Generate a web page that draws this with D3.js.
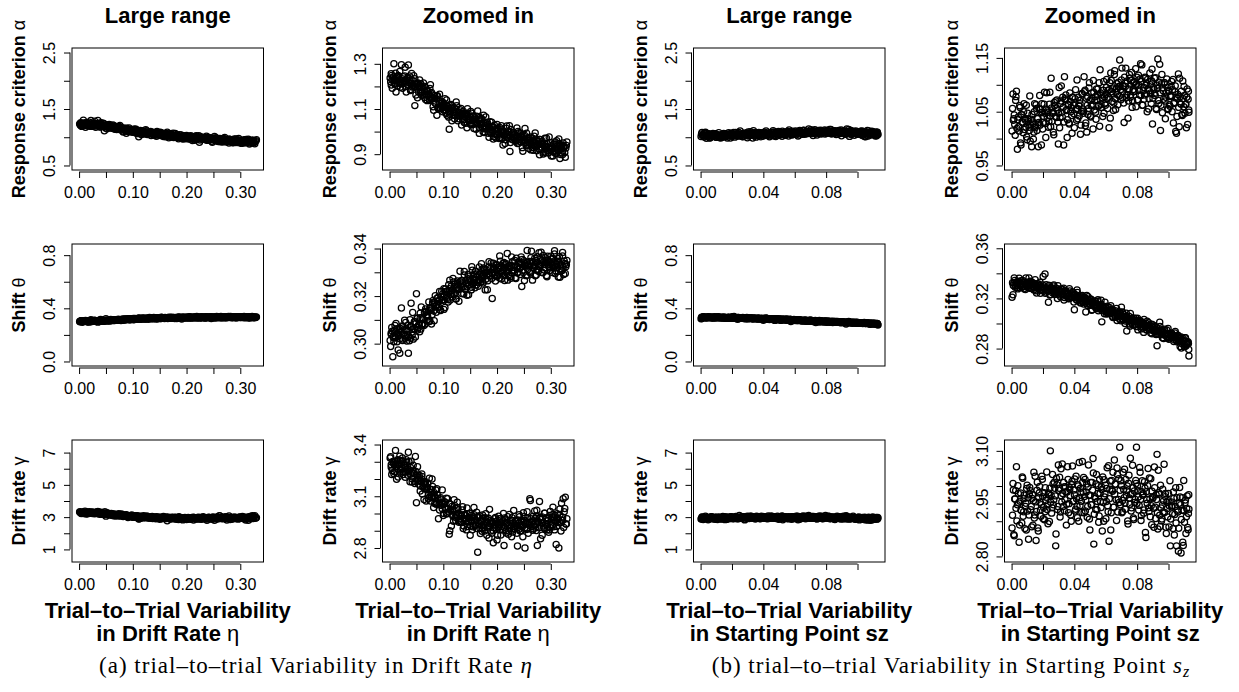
<!DOCTYPE html>
<html>
<head>
<meta charset="utf-8">
<script src="https://cdn.jsdelivr.net/npm/d3@7"></script>
<style>
	body { margin: 0; background: #fff; }
</style>
</head>
<body>
<div id="chart"></div>
<script>
// simulated parameter values (x) and estimates (y), read off the scatter clouds
// (two passes over the x range, 20 values per row)
const xEta = [
	0.001,0.003,0.004,0.006,0.008,0.009,0.011,0.012,0.014,0.016,0.017,0.019,0.020,0.022,0.024,0.025,0.027,0.029,0.030,0.032,
	0.034,0.035,0.037,0.039,0.040,0.042,0.043,0.045,0.047,0.048,0.050,0.052,0.053,0.055,0.057,0.058,0.060,0.061,0.063,0.065,
	0.066,0.068,0.070,0.071,0.073,0.075,0.076,0.078,0.079,0.081,0.083,0.084,0.086,0.088,0.089,0.091,0.093,0.094,0.096,0.098,
	0.099,0.101,0.102,0.104,0.106,0.107,0.109,0.111,0.112,0.114,0.116,0.117,0.119,0.120,0.122,0.124,0.125,0.127,0.129,0.131,
	0.132,0.134,0.135,0.137,0.139,0.140,0.142,0.144,0.145,0.147,0.148,0.150,0.152,0.153,0.155,0.157,0.158,0.160,0.162,0.164,
	0.165,0.167,0.168,0.170,0.172,0.173,0.175,0.176,0.178,0.180,0.181,0.183,0.185,0.186,0.188,0.190,0.191,0.193,0.194,0.196,
	0.198,0.200,0.201,0.203,0.205,0.206,0.208,0.209,0.211,0.213,0.214,0.216,0.218,0.219,0.221,0.223,0.224,0.226,0.228,0.229,
	0.231,0.233,0.234,0.236,0.238,0.239,0.241,0.242,0.244,0.246,0.247,0.249,0.251,0.252,0.254,0.256,0.257,0.259,0.261,0.262,
	0.264,0.266,0.267,0.269,0.271,0.272,0.274,0.275,0.277,0.279,0.280,0.282,0.284,0.285,0.287,0.289,0.290,0.292,0.293,0.295,
	0.297,0.299,0.300,0.302,0.304,0.305,0.307,0.308,0.310,0.312,0.313,0.315,0.317,0.318,0.320,0.322,0.323,0.325,0.327,0.329,
	0.002,0.003,0.005,0.007,0.008,0.010,0.011,0.013,0.015,0.016,0.018,0.019,0.021,0.023,0.024,0.026,0.028,0.029,0.031,0.033,
	0.034,0.036,0.038,0.039,0.041,0.042,0.044,0.046,0.047,0.049,0.051,0.052,0.054,0.056,0.057,0.059,0.060,0.062,0.064,0.065,
	0.067,0.069,0.070,0.072,0.074,0.075,0.077,0.078,0.080,0.082,0.083,0.085,0.087,0.088,0.090,0.092,0.093,0.095,0.097,0.098,
	0.100,0.101,0.103,0.105,0.106,0.108,0.110,0.111,0.113,0.115,0.116,0.118,0.120,0.121,0.123,0.124,0.126,0.128,0.129,0.131,
	0.133,0.134,0.136,0.138,0.139,0.141,0.143,0.144,0.146,0.147,0.149,0.151,0.152,0.154,0.156,0.157,0.159,0.161,0.162,0.164,
	0.166,0.167,0.169,0.171,0.172,0.174,0.175,0.177,0.179,0.180,0.182,0.184,0.185,0.187,0.189,0.190,0.192,0.193,0.195,0.197,
	0.199,0.200,0.202,0.204,0.205,0.207,0.208,0.210,0.212,0.213,0.215,0.217,0.218,0.220,0.222,0.223,0.225,0.227,0.228,0.230,
	0.232,0.233,0.235,0.237,0.238,0.240,0.241,0.243,0.245,0.246,0.248,0.250,0.251,0.253,0.255,0.256,0.258,0.260,0.261,0.263,
	0.265,0.266,0.268,0.270,0.271,0.273,0.274,0.276,0.278,0.279,0.281,0.283,0.284,0.286,0.288,0.289,0.291,0.292,0.294,0.296,
	0.298,0.299,0.301,0.303,0.304,0.306,0.307,0.309,0.311,0.312,0.314,0.316,0.317,0.319,0.321,0.322,0.324,0.326,0.328,0.330
];
const alphaEta = [
	1.237,1.206,1.248,1.226,1.300,1.214,1.230,1.175,1.241,1.248,1.216,1.229,1.196,1.296,1.213,1.243,1.221,1.285,1.200,1.229,
	1.207,1.295,1.246,1.182,1.213,1.227,1.203,1.247,1.115,1.198,1.209,1.150,1.215,1.197,1.172,1.212,1.199,1.174,1.215,1.151,
	1.199,1.165,1.137,1.178,1.165,1.138,1.208,1.149,1.166,1.110,1.148,1.160,1.124,1.072,1.159,1.101,1.132,1.103,1.115,1.132,
	1.088,1.126,1.108,1.096,1.140,1.072,1.110,1.010,1.077,1.120,1.048,1.103,1.086,1.106,1.071,1.087,1.114,1.048,1.086,1.068,
	1.084,1.029,1.074,1.090,1.055,1.073,1.037,1.076,1.101,1.050,1.058,1.034,1.081,1.037,1.067,1.014,1.045,1.056,1.038,1.091,
	1.049,1.018,1.062,1.032,1.052,1.019,1.073,0.996,1.027,1.012,1.041,1.030,0.975,1.015,0.996,1.042,1.002,1.022,0.978,1.007,
	0.972,1.032,0.987,1.008,1.018,0.974,0.995,1.010,0.941,0.997,0.983,0.964,1.025,0.977,0.998,0.982,0.912,1.009,0.989,0.964,
	0.995,0.974,0.958,0.983,0.947,1.001,0.965,0.957,0.989,0.973,0.929,0.981,0.960,1.014,0.940,0.963,0.970,0.925,0.947,0.976,
	0.943,0.958,0.917,0.980,0.950,0.932,0.964,0.941,0.955,0.897,0.965,0.920,0.944,0.947,0.906,0.971,0.923,0.933,0.947,0.905,
	0.976,0.921,0.938,0.925,0.892,0.943,0.912,0.954,0.905,0.927,0.918,0.967,0.940,0.899,0.934,0.914,0.950,0.932,0.886,0.939,
	1.221,1.256,1.192,1.242,1.228,1.210,1.258,1.234,1.202,1.245,1.221,1.266,1.211,1.234,1.192,1.226,1.246,1.214,1.175,1.235,
	1.240,1.216,1.226,1.186,1.257,1.197,1.212,1.196,1.234,1.162,1.213,1.198,1.175,1.228,1.197,1.179,1.160,1.201,1.184,1.164,
	1.142,1.179,1.183,1.161,1.141,1.191,1.146,1.173,1.150,1.094,1.159,1.125,1.144,1.157,1.106,1.125,1.165,1.103,1.126,1.105,
	1.114,1.095,1.146,1.081,1.114,1.101,1.064,1.117,1.088,1.103,1.116,1.072,1.086,1.057,1.099,1.131,1.070,1.086,1.057,1.097,
	1.102,1.073,1.052,1.077,1.040,1.079,1.067,1.017,1.081,1.048,1.067,1.089,1.030,1.050,1.069,1.032,1.052,1.010,1.068,1.036,
	1.055,0.992,1.029,1.058,1.036,0.999,1.038,1.012,1.065,1.017,1.039,0.993,1.022,1.044,0.993,1.009,1.019,0.967,1.028,0.991,
	0.985,1.001,1.014,0.969,0.985,0.999,1.026,0.970,0.989,1.001,0.947,1.015,0.974,0.986,0.968,1.026,0.952,0.989,0.976,0.997,
	0.968,0.985,0.958,1.016,0.971,0.948,0.995,0.977,0.954,0.984,0.913,0.965,0.984,0.952,0.993,0.939,0.953,0.971,0.961,0.919,
	0.972,0.929,0.955,0.936,0.994,0.960,0.915,0.941,0.924,0.965,0.948,0.931,0.957,0.901,0.935,0.945,0.908,0.971,0.916,0.931,
	0.921,0.951,0.892,0.932,0.910,0.945,0.925,0.903,0.960,0.936,0.916,0.947,0.881,0.929,0.940,0.899,0.934,0.907,0.927,0.954
];
const thetaEta = [
	0.3013,0.3045,0.3068,0.2945,0.3033,0.3054,0.3027,0.3085,0.3008,0.3031,0.3049,0.2960,0.3064,0.3150,0.3019,0.3072,0.3059,0.3032,0.3089,0.3011,
	0.3076,0.2960,0.3012,0.3071,0.3170,0.3035,0.3131,0.3064,0.3092,0.3028,0.3210,0.3107,0.3068,0.3080,0.3128,0.3061,0.3109,0.3078,0.3101,0.3130,
	0.3082,0.3136,0.3121,0.3112,0.3175,0.3095,0.3149,0.3147,0.3122,0.3182,0.3096,0.3173,0.3157,0.3190,0.3152,0.3179,0.3219,0.3142,0.3197,0.3182,
	0.3209,0.3144,0.3206,0.3230,0.3190,0.3218,0.3175,0.3231,0.3267,0.3208,0.3222,0.3196,0.3259,0.3209,0.3250,0.3188,0.3233,0.3252,0.3231,0.3304,
	0.3248,0.3211,0.3266,0.3239,0.3289,0.3229,0.3254,0.3203,0.3272,0.3284,0.3247,0.3266,0.3226,0.3323,0.3252,0.3292,0.3266,0.3305,0.3248,0.3286,
	0.3241,0.3322,0.3267,0.3297,0.3312,0.3261,0.3290,0.3311,0.3226,0.3300,0.3285,0.3264,0.3344,0.3287,0.3317,0.3299,0.3190,0.3338,0.3317,0.3288,
	0.3330,0.3306,0.3286,0.3321,0.3276,0.3347,0.3302,0.3295,0.3337,0.3318,0.3265,0.3333,0.3308,0.3379,0.3287,0.3319,0.3330,0.3275,0.3306,0.3346,
	0.3307,0.3327,0.3277,0.3359,0.3323,0.3301,0.3343,0.3316,0.3336,0.3240,0.3354,0.3299,0.3329,0.3336,0.3286,0.3392,0.3312,0.3327,0.3346,0.3297,
	0.3389,0.3320,0.3343,0.3327,0.3285,0.3350,0.3311,0.3365,0.3304,0.3333,0.3322,0.3384,0.3351,0.3298,0.3343,0.3319,0.3361,0.3340,0.3281,0.3349,
	0.3346,0.3309,0.3368,0.3330,0.3358,0.3318,0.3391,0.3295,0.3337,0.3319,0.3358,0.3346,0.3279,0.3331,0.3308,0.3369,0.3321,0.3348,0.3295,0.3333,
	0.2988,0.3039,0.3052,0.3026,0.3008,0.3076,0.3024,0.3063,0.3039,0.2973,0.3060,0.3021,0.3050,0.3074,0.3013,0.3041,0.3098,0.3023,0.3058,0.3037,
	0.3051,0.3031,0.3101,0.3023,0.3071,0.3060,0.3019,0.3092,0.3062,0.3084,0.3107,0.3057,0.3079,0.3050,0.3109,0.3154,0.3081,0.3106,0.3076,0.3133,
	0.3146,0.3117,0.3096,0.3134,0.3093,0.3151,0.3141,0.3083,0.3172,0.3137,0.3166,0.3201,0.3132,0.3165,0.3194,0.3153,0.3185,0.3139,0.3220,0.3184,
	0.3184,0.3231,0.3152,0.3219,0.3204,0.3185,0.3248,0.3219,0.3183,0.3241,0.3213,0.3274,0.3206,0.3240,0.3189,0.3236,0.3264,0.3227,0.3178,0.3260,
	0.3265,0.3239,0.3255,0.3209,0.3303,0.3229,0.3254,0.3239,0.3291,0.3206,0.3275,0.3260,0.3237,0.3309,0.3274,0.3256,0.3235,0.3293,0.3279,0.3258,
	0.3267,0.3291,0.3258,0.3336,0.3281,0.3255,0.3318,0.3297,0.3271,0.3311,0.3227,0.3295,0.3322,0.3284,0.3339,0.3274,0.3294,0.3322,0.3311,0.3263,
	0.3333,0.3281,0.3314,0.3293,0.3369,0.3328,0.3272,0.3306,0.3287,0.3341,0.3321,0.3303,0.3336,0.3267,0.3312,0.3327,0.3282,0.3364,0.3297,0.3321,
	0.3309,0.3350,0.3274,0.3325,0.3297,0.3343,0.3318,0.3291,0.3364,0.3334,0.3309,0.3349,0.3265,0.3328,0.3342,0.3289,0.3334,0.3302,0.3327,0.3361,
	0.3345,0.3267,0.3318,0.3358,0.3333,0.3289,0.3342,0.3312,0.3382,0.3324,0.3355,0.3300,0.3339,0.3371,0.3310,0.3333,0.3350,0.3286,0.3368,0.3324,
	0.3318,0.3340,0.3356,0.3299,0.3322,0.3340,0.3377,0.3306,0.3331,0.3347,0.3280,0.3365,0.3315,0.3331,0.3308,0.3383,0.3291,0.3337,0.3323,0.3350
];
const gammaEta = [
	3.322,3.268,3.226,3.301,3.285,3.242,3.366,3.271,3.304,3.212,3.283,3.309,3.252,3.262,3.322,3.226,3.286,3.240,3.266,3.299,
	3.222,3.355,3.253,3.228,3.303,3.183,3.246,3.232,3.186,3.330,3.062,3.222,3.190,3.222,3.160,3.185,3.229,3.113,3.176,3.144,
	3.169,3.073,3.147,3.172,3.110,3.139,3.072,3.140,3.200,3.092,3.101,3.058,3.136,3.059,3.106,2.970,3.066,3.084,3.047,3.137,
	3.056,3.000,3.068,3.027,3.088,3.001,3.028,2.880,2.900,3.052,2.996,3.015,2.955,3.080,2.978,3.028,2.986,3.033,2.949,2.995,
	2.952,2.992,3.021,2.913,2.969,2.994,2.955,3.032,2.924,2.953,2.974,2.874,2.990,2.963,2.923,2.993,2.973,2.933,3.008,2.775,
	2.976,2.941,2.914,2.959,2.897,2.992,2.930,2.918,2.975,2.947,2.874,2.964,2.930,3.024,2.898,2.940,2.954,2.830,2.918,2.970,
	2.916,2.942,2.874,2.984,2.935,2.905,2.962,2.924,2.951,2.815,2.974,2.899,2.940,2.948,2.880,2.994,2.914,2.934,2.960,2.892,
	3.018,2.923,2.954,2.931,2.812,2.962,2.909,2.981,2.898,2.937,2.922,3.005,2.960,2.800,2.949,2.915,2.972,2.942,3.085,3.075,
	2.951,2.903,2.983,2.934,2.972,2.920,3.019,2.815,2.948,3.070,2.979,2.965,2.874,2.947,2.917,3.001,2.937,2.976,2.905,2.959,
	2.904,3.012,2.936,2.975,2.995,2.923,2.962,2.989,2.820,2.971,2.949,2.800,3.026,2.948,3.060,2.960,3.085,3.010,3.095,2.939,
	3.329,3.283,3.249,3.293,3.231,3.303,3.283,3.199,3.312,3.258,3.291,3.332,3.233,3.270,3.303,3.241,3.278,3.210,3.312,3.257,
	3.245,3.300,3.184,3.266,3.238,3.202,3.280,3.232,3.174,3.244,3.197,3.271,3.171,3.207,3.130,3.185,3.214,3.155,3.081,3.182,
	3.184,3.141,3.154,3.085,3.205,3.097,3.122,3.094,3.157,3.035,3.120,3.092,3.053,3.143,3.087,3.056,3.020,3.091,3.063,3.027,
	2.988,3.053,3.065,3.027,2.997,3.085,3.009,3.059,3.022,2.927,3.041,2.984,3.019,3.046,2.959,2.994,3.066,2.960,3.002,2.969,
	2.983,2.950,3.040,2.928,2.988,2.967,2.905,2.998,2.951,2.976,3.001,2.928,2.952,2.906,2.980,3.035,2.931,2.959,2.913,2.983,
	2.934,2.987,2.884,2.951,2.912,2.973,2.938,2.899,2.998,2.955,2.920,2.972,2.858,2.941,2.959,2.886,2.946,2.900,2.933,2.977,
	2.954,2.847,2.916,2.969,2.935,2.875,2.947,2.905,3.000,2.920,2.962,2.887,2.940,2.982,2.899,2.929,2.952,2.865,2.976,2.915,
	2.908,2.939,2.961,2.885,2.917,2.943,2.993,2.898,2.932,2.956,2.865,2.982,2.914,2.938,2.907,3.010,2.885,2.949,2.931,2.969,
	2.925,2.956,2.910,3.014,2.938,2.901,2.985,2.955,2.917,2.971,2.854,2.946,2.980,2.928,3.001,2.910,2.937,2.973,2.958,2.891,
	2.988,2.917,2.962,2.933,3.037,2.980,2.905,2.951,2.925,2.998,2.972,2.946,2.992,2.898,2.959,2.979,2.919,3.029,2.939,2.970
];

const xSz = [
	0.0003,0.0009,0.0014,0.0020,0.0026,0.0031,0.0037,0.0043,0.0048,0.0054,0.0060,0.0065,0.0071,0.0077,0.0082,0.0088,0.0094,0.0099,0.0105,0.0111,
	0.0116,0.0122,0.0128,0.0133,0.0139,0.0145,0.0150,0.0156,0.0162,0.0167,0.0173,0.0179,0.0184,0.0190,0.0196,0.0201,0.0207,0.0213,0.0218,0.0224,
	0.0230,0.0235,0.0241,0.0247,0.0252,0.0258,0.0264,0.0269,0.0275,0.0281,0.0286,0.0292,0.0298,0.0303,0.0309,0.0315,0.0320,0.0326,0.0332,0.0337,
	0.0343,0.0349,0.0354,0.0360,0.0366,0.0371,0.0377,0.0383,0.0388,0.0394,0.0400,0.0405,0.0411,0.0417,0.0422,0.0428,0.0434,0.0439,0.0445,0.0451,
	0.0456,0.0462,0.0468,0.0473,0.0479,0.0485,0.0490,0.0496,0.0502,0.0507,0.0513,0.0519,0.0524,0.0530,0.0536,0.0541,0.0547,0.0553,0.0558,0.0564,
	0.0570,0.0575,0.0581,0.0587,0.0592,0.0598,0.0604,0.0609,0.0615,0.0621,0.0626,0.0632,0.0638,0.0643,0.0649,0.0655,0.0660,0.0666,0.0672,0.0677,
	0.0683,0.0689,0.0694,0.0700,0.0706,0.0711,0.0717,0.0723,0.0728,0.0734,0.0740,0.0745,0.0751,0.0757,0.0762,0.0768,0.0774,0.0779,0.0785,0.0791,
	0.0796,0.0802,0.0808,0.0813,0.0819,0.0825,0.0830,0.0836,0.0842,0.0847,0.0853,0.0859,0.0864,0.0870,0.0876,0.0881,0.0887,0.0893,0.0898,0.0904,
	0.0910,0.0915,0.0921,0.0927,0.0932,0.0938,0.0944,0.0949,0.0955,0.0961,0.0966,0.0972,0.0978,0.0983,0.0989,0.0995,0.1000,0.1006,0.1012,0.1017,
	0.1023,0.1029,0.1034,0.1040,0.1046,0.1051,0.1057,0.1063,0.1068,0.1074,0.1080,0.1085,0.1091,0.1097,0.1102,0.1108,0.1114,0.1119,0.1125,0.1130,
	0.0006,0.0011,0.0017,0.0023,0.0028,0.0034,0.0040,0.0045,0.0051,0.0057,0.0062,0.0068,0.0074,0.0079,0.0085,0.0091,0.0096,0.0102,0.0108,0.0113,
	0.0119,0.0125,0.0130,0.0136,0.0142,0.0147,0.0153,0.0159,0.0164,0.0170,0.0176,0.0181,0.0187,0.0193,0.0198,0.0204,0.0210,0.0215,0.0221,0.0227,
	0.0232,0.0238,0.0244,0.0249,0.0255,0.0261,0.0266,0.0272,0.0278,0.0283,0.0289,0.0295,0.0300,0.0306,0.0312,0.0317,0.0323,0.0329,0.0334,0.0340,
	0.0346,0.0351,0.0357,0.0363,0.0368,0.0374,0.0380,0.0385,0.0391,0.0397,0.0402,0.0408,0.0414,0.0419,0.0425,0.0431,0.0436,0.0442,0.0448,0.0453,
	0.0459,0.0465,0.0470,0.0476,0.0482,0.0487,0.0493,0.0499,0.0504,0.0510,0.0516,0.0521,0.0527,0.0533,0.0538,0.0544,0.0550,0.0555,0.0561,0.0567,
	0.0572,0.0578,0.0584,0.0589,0.0595,0.0601,0.0606,0.0612,0.0618,0.0623,0.0629,0.0635,0.0640,0.0646,0.0652,0.0657,0.0663,0.0669,0.0674,0.0680,
	0.0686,0.0691,0.0697,0.0703,0.0708,0.0714,0.0720,0.0725,0.0731,0.0737,0.0742,0.0748,0.0754,0.0759,0.0765,0.0771,0.0776,0.0782,0.0788,0.0793,
	0.0799,0.0805,0.0810,0.0816,0.0822,0.0827,0.0833,0.0839,0.0844,0.0850,0.0856,0.0861,0.0867,0.0873,0.0878,0.0884,0.0890,0.0895,0.0901,0.0907,
	0.0912,0.0918,0.0924,0.0929,0.0935,0.0941,0.0946,0.0952,0.0958,0.0963,0.0969,0.0975,0.0980,0.0986,0.0992,0.0997,0.1003,0.1009,0.1014,0.1020,
	0.1026,0.1031,0.1037,0.1043,0.1048,0.1054,0.1060,0.1065,0.1071,0.1077,0.1082,0.1088,0.1094,0.1099,0.1105,0.1111,0.1116,0.1122,0.1127,0.1129
];
const alphaSz = [
	1.014,1.083,1.037,1.026,1.071,1.088,0.980,1.040,1.014,1.058,0.988,1.044,1.029,1.050,1.017,1.034,1.062,0.998,1.037,1.021,
	1.079,1.025,0.985,1.031,0.999,1.050,1.020,1.063,1.015,1.038,1.030,1.080,1.054,0.988,1.049,1.030,1.064,1.047,1.002,1.085,
	1.052,1.021,1.064,1.042,1.112,1.032,1.049,1.007,1.061,1.070,1.039,1.053,0.990,1.095,1.039,1.070,1.049,1.077,0.988,1.115,
	1.072,1.052,1.002,1.064,1.029,1.085,1.050,1.043,1.077,1.062,1.020,1.074,1.054,1.109,1.037,1.061,1.071,1.008,1.051,1.083,
	1.047,1.115,1.090,1.029,1.012,1.078,1.056,1.104,1.042,1.061,1.074,1.018,1.086,1.071,1.049,1.092,1.081,1.060,1.104,1.128,
	1.064,1.081,1.041,1.106,1.078,1.062,1.095,1.074,1.090,1.020,1.104,1.122,1.087,1.092,1.052,1.119,1.074,1.086,1.102,1.063,
	1.097,1.146,1.091,1.109,1.076,1.097,1.030,1.103,1.131,1.082,1.091,1.070,1.119,1.077,1.108,1.058,1.091,1.104,1.088,1.130,
	1.101,1.072,1.118,1.090,1.111,1.080,1.137,1.062,1.095,1.081,1.112,1.103,1.050,1.092,1.074,1.122,1.085,1.107,1.027,1.095,
	1.112,1.080,1.056,1.099,1.148,1.065,1.138,1.015,1.102,1.048,1.089,1.104,1.070,1.077,1.111,1.056,1.090,1.063,1.078,1.097,
	1.050,1.110,1.065,1.087,1.013,1.010,1.075,1.120,1.022,1.078,1.064,1.045,1.107,1.059,1.080,1.064,1.020,1.092,1.073,1.049,
	1.056,1.034,1.044,1.006,1.078,1.019,1.035,1.022,1.061,0.992,1.045,1.031,1.011,1.065,1.037,1.021,1.003,1.047,1.032,1.015,
	0.995,1.036,1.045,1.027,1.012,1.065,1.024,1.056,1.037,0.985,1.055,1.025,1.048,1.065,1.018,1.041,1.086,1.028,1.055,1.038,
	1.049,1.032,1.086,1.022,1.057,1.047,1.012,1.067,1.041,1.057,1.072,1.031,1.047,1.020,1.065,1.098,1.040,1.058,1.031,1.074,
	1.081,1.054,1.035,1.062,1.027,1.069,1.058,1.010,1.077,1.046,1.066,1.091,1.034,1.056,1.077,1.042,1.065,1.025,1.084,1.055,
	1.051,1.087,1.024,1.075,1.062,1.045,1.094,1.071,1.040,1.085,1.061,1.108,1.053,1.078,1.036,1.072,1.092,1.062,1.023,1.085,
	1.058,1.076,1.090,1.047,1.065,1.082,1.110,1.056,1.077,1.091,1.038,1.108,1.069,1.083,1.066,1.126,1.054,1.093,1.082,1.105,
	1.079,1.097,1.072,1.131,1.087,1.066,1.114,1.097,1.076,1.107,1.038,1.092,1.112,1.081,1.123,1.071,1.087,1.106,1.099,1.059,
	1.114,1.072,1.099,1.081,1.139,1.106,1.062,1.089,1.073,1.114,1.099,1.083,1.110,1.055,1.089,1.100,1.065,1.129,1.075,1.092,
	1.084,1.113,1.054,1.093,1.071,1.105,1.085,1.062,1.119,1.094,1.073,1.104,1.037,1.085,1.095,1.054,1.088,1.060,1.080,1.106,
	1.091,1.029,1.067,1.098,1.077,1.041,1.082,1.058,1.112,1.065,1.088,1.043,1.074,1.097,1.047,1.064,1.077,1.026,1.088,1.053
];
const thetaSz = [
	0.3210,0.3230,0.3324,0.3343,0.3304,0.3326,0.3286,0.3333,0.3362,0.3305,0.3316,0.3289,0.3344,0.3295,0.3330,0.3271,0.3308,0.3322,0.3302,0.3364,
	0.3314,0.3280,0.3331,0.3297,0.3321,0.3284,0.3349,0.3261,0.3298,0.3281,0.3315,0.3304,0.3242,0.3289,0.3266,0.3375,0.3277,0.3395,0.3251,0.3285,
	0.3260,0.3170,0.3304,0.3231,0.3267,0.3284,0.3256,0.3307,0.3235,0.3253,0.3266,0.3199,0.3275,0.3255,0.3228,0.3275,0.3260,0.3233,0.3281,0.3208,
	0.3259,0.3234,0.3214,0.3243,0.3199,0.3260,0.3218,0.3208,0.3244,0.3225,0.3110,0.3232,0.3207,0.3268,0.3183,0.3209,0.3216,0.3164,0.3189,0.3223,
	0.3168,0.3210,0.3189,0.3092,0.3223,0.3143,0.3186,0.3178,0.3146,0.3193,0.3110,0.3171,0.3150,0.3173,0.3131,0.3148,0.3178,0.3101,0.3143,0.3122,
	0.3185,0.3013,0.3136,0.3118,0.3077,0.3132,0.3094,0.3138,0.3079,0.3102,0.3088,0.3141,0.3108,0.3057,0.3094,0.3068,0.3102,0.3079,0.3023,0.3081,
	0.3073,0.3034,0.3079,0.3130,0.3091,0.3032,0.3050,0.2999,0.3056,0.2940,0.3025,0.3037,0.2996,0.3079,0.3010,0.3043,0.3014,0.3044,0.2988,0.3018,
	0.2975,0.3042,0.2990,0.3012,0.3023,0.2972,0.2994,0.3010,0.2929,0.2992,0.2974,0.2951,0.3019,0.2963,0.2987,0.2966,0.2925,0.2994,0.2971,0.2940,
	0.2980,0.2941,0.2912,0.2822,0.2946,0.2915,0.3010,0.2930,0.2950,0.2887,0.2933,0.2947,0.2906,0.2911,0.2949,0.2883,0.2921,0.2887,0.2903,0.2923,
	0.2890,0.2904,0.2856,0.2925,0.2889,0.2865,0.2899,0.2870,0.2884,0.2816,0.2892,0.2838,0.2863,0.2864,0.2815,0.2887,0.2830,0.2840,0.2853,0.2740,
	0.3325,0.3304,0.3364,0.3290,0.3330,0.3316,0.3276,0.3338,0.3306,0.3323,0.3341,0.3292,0.3308,0.3277,0.3328,0.3364,0.3295,0.3315,0.3284,0.3331,
	0.3337,0.3306,0.3281,0.3310,0.3268,0.3315,0.3301,0.3244,0.3318,0.3281,0.3303,0.3329,0.3262,0.3286,0.3307,0.3265,0.3290,0.3242,0.3309,0.3272,
	0.3265,0.3303,0.3228,0.3284,0.3267,0.3246,0.3299,0.3270,0.3232,0.3281,0.3251,0.3302,0.3237,0.3263,0.3213,0.3252,0.3273,0.3235,0.3188,0.3256,
	0.3259,0.3231,0.3242,0.3197,0.3277,0.3207,0.3226,0.3208,0.3252,0.3172,0.3229,0.3212,0.3187,0.3248,0.3214,0.3194,0.3171,0.3219,0.3202,0.3180,
	0.3155,0.3198,0.3204,0.3178,0.3157,0.3214,0.3163,0.3195,0.3169,0.3105,0.3180,0.3141,0.3163,0.3180,0.3121,0.3143,0.3190,0.3118,0.3146,0.3122,
	0.3152,0.3101,0.3129,0.3105,0.3170,0.3130,0.3076,0.3102,0.3082,0.3127,0.3106,0.3085,0.3113,0.3047,0.3084,0.3094,0.3049,0.3119,0.3056,0.3073,
	0.3060,0.3092,0.3021,0.3064,0.3035,0.3073,0.3047,0.3019,0.3081,0.3051,0.3025,0.3057,0.2979,0.3031,0.3041,0.2990,0.3027,0.2994,0.3014,0.3041,
	0.3023,0.2949,0.2992,0.3025,0.3000,0.2957,0.3002,0.2972,0.3032,0.2977,0.3002,0.2948,0.2982,0.3006,0.2949,0.2966,0.2978,0.2918,0.2988,0.2945,
	0.2937,0.2954,0.2967,0.2914,0.2931,0.2946,0.2976,0.2910,0.2930,0.2942,0.2880,0.2955,0.2906,0.2919,0.2896,0.2961,0.2875,0.2915,0.2900,0.2923,
	0.2890,0.2907,0.2873,0.2937,0.2884,0.2855,0.2906,0.2883,0.2854,0.2886,0.2804,0.2861,0.2880,0.2841,0.2886,0.2821,0.2835,0.2855,0.2841,0.2792
];
const gammaSz = [
	2.881,3.007,2.862,2.963,2.987,3.055,2.947,2.979,2.840,2.957,2.931,2.895,3.022,2.927,2.974,2.942,2.875,3.002,2.967,2.918,
	2.996,2.933,2.884,2.975,2.958,2.909,3.028,2.845,2.988,2.881,2.967,2.999,2.932,2.947,3.019,2.907,2.981,2.927,2.959,3.040,
	2.947,2.980,2.899,3.100,2.973,2.938,3.006,2.961,2.994,2.830,3.022,2.933,3.060,2.994,2.912,3.049,2.955,2.979,3.010,2.930,
	2.998,2.889,2.983,3.019,2.950,2.991,2.918,3.004,3.057,2.957,2.975,2.929,3.028,2.942,3.004,2.900,2.967,2.994,2.957,3.070,
	2.983,2.924,3.019,2.960,3.006,2.942,3.060,2.906,2.974,2.947,3.010,3.078,2.835,2.970,2.933,3.033,2.956,3.001,2.915,2.979,
	2.939,2.990,3.026,2.900,2.969,3.002,2.956,3.052,2.927,2.843,2.991,2.875,3.016,2.985,2.940,3.074,3.005,2.961,3.051,2.926,
	3.021,3.110,2.947,3.001,2.927,3.039,2.967,2.952,3.019,2.987,2.901,3.008,2.966,3.079,2.929,2.978,2.995,2.905,2.953,3.016,
	3.110,3.000,2.969,2.945,3.039,2.902,2.984,2.974,2.923,3.012,2.868,2.984,2.951,3.050,2.928,2.963,3.021,2.890,2.970,2.937,
	3.054,2.940,2.975,3.090,2.878,2.981,2.917,3.002,2.901,2.946,2.926,3.062,2.970,2.883,2.954,2.912,2.979,2.943,2.830,2.955,
	2.944,2.879,2.965,2.919,2.995,2.830,2.931,2.815,2.951,2.969,2.810,2.931,2.840,3.016,2.897,2.960,2.913,2.972,2.876,2.934,
	2.917,2.989,2.859,2.963,2.937,2.901,3.001,2.952,2.889,2.980,2.931,3.026,2.914,2.964,2.879,2.951,2.993,2.929,2.849,2.977,
	2.987,2.942,2.965,2.889,3.039,2.918,2.955,2.928,3.011,2.872,2.980,2.954,2.914,3.028,2.970,2.939,2.904,2.995,2.968,2.933,
	2.893,2.976,2.994,2.954,2.923,3.033,2.947,3.011,2.972,2.864,3.004,2.942,2.988,3.025,2.926,2.972,3.063,2.942,2.997,2.961,
	2.984,2.948,3.055,2.924,2.996,2.973,2.900,3.013,2.957,2.989,3.020,2.934,2.964,2.910,3.000,3.067,2.944,2.981,2.925,3.011,
	3.024,2.970,2.929,2.983,2.911,2.997,2.974,2.875,3.010,2.947,2.988,3.037,2.920,2.965,3.006,2.933,2.979,2.897,3.019,2.956,
	2.998,2.872,2.953,3.018,2.978,2.907,2.993,2.944,3.058,2.964,3.014,2.924,2.989,3.039,2.940,2.977,3.005,2.902,3.033,2.962,
	2.953,2.988,3.015,2.924,2.959,2.990,3.048,2.934,2.974,3.000,2.892,3.031,2.948,2.976,2.938,3.059,2.909,2.986,2.962,3.007,
	2.951,2.987,2.932,3.053,2.962,2.916,3.015,2.978,2.932,2.994,2.854,2.962,3.001,2.938,3.023,2.913,2.944,2.985,2.966,2.883,
	2.995,2.908,2.962,2.924,3.045,2.977,2.885,2.938,2.906,2.991,2.958,2.925,2.979,2.865,2.936,2.958,2.884,3.015,2.906,2.941,
	2.921,2.983,2.861,2.942,2.895,2.967,2.926,2.880,2.996,2.947,2.905,2.967,2.831,2.930,2.952,2.865,2.936,2.882,2.922,2.975
];

// axis ranges and ticks
const etaLim = [0, 0.33];
const szLim = [0, 0.113];
const etaTicks = [0, 0.05, 0.10, 0.15, 0.20, 0.25, 0.30];
const etaTickLabels = ["0.00", "", "0.10", "", "0.20", "", "0.30"];
const szTicks = [0, 0.02, 0.04, 0.06, 0.08, 0.10];
const szTickLabels = ["0.00", "", "0.04", "", "0.08", ""];

const alphaWideLim = [0.5, 2.5];
const alphaWideTicks = [0.5, 1.0, 1.5, 2.0, 2.5];
const alphaWideLabels = ["0.5", "", "1.5", "", "2.5"];
const alphaEtaLim = [0.85, 1.35];
const alphaEtaTicks = [0.9, 1.0, 1.1, 1.2, 1.3];
const alphaEtaLabels = ["0.9", "", "1.1", "", "1.3"];
const alphaSzLim = [0.95, 1.16];
const alphaSzTicks = [0.95, 1.00, 1.05, 1.10, 1.15];
const alphaSzLabels = ["0.95", "", "1.05", "", "1.15"];

const thetaWideLim = [0, 0.85];
const thetaWideTicks = [0, 0.2, 0.4, 0.6, 0.8];
const thetaWideLabels = ["0.0", "", "0.4", "", "0.8"];
const thetaEtaLim = [0.2925, 0.34];
const thetaEtaTicks = [0.30, 0.31, 0.32, 0.33, 0.34];
const thetaEtaLabels = ["0.30", "", "0.32", "", "0.34"];
const thetaSzLim = [0.2697, 0.3598];
const thetaSzTicks = [0.28, 0.30, 0.32, 0.34, 0.36];
const thetaSzLabels = ["0.28", "", "0.32", "", "0.36"];

const gammaWideLim = [0.5, 7.5];
const gammaWideTicks = [1, 2, 3, 4, 5, 6, 7];
const gammaWideLabels = ["1", "", "3", "", "5", "", "7"];
const gammaEtaLim = [2.745, 3.40];
const gammaEtaTicks = [2.8, 2.9, 3.0, 3.1, 3.2, 3.3, 3.4];
const gammaEtaLabels = ["2.8", "", "", "3.1", "", "", "3.4"];
const gammaSzLim = [2.797, 3.118];
const gammaSzTicks = [2.80, 2.85, 2.90, 2.95, 3.00, 3.05, 3.10];
const gammaSzLabels = ["2.80", "", "", "2.95", "", "", "3.10"];

const colTitles = ["Large range", "Zoomed in", "Large range", "Zoomed in"];
const rowNames = ["Response criterion ", "Shift ", "Drift rate "];
const rowGreek = ["α", "θ", "γ"];

// layout
const W = 1239, H = 692;
const colLeft = [72, 382.5, 693.5, 1004.5], boxW = 191.5;
const rowTop = [48, 244, 440], boxH = 122;
const sans = "'Liberation Sans', Arial, Helvetica, sans-serif";

const rows = [
	{eta: alphaEta, sz: alphaSz, wide: [alphaWideLim, alphaWideTicks, alphaWideLabels],
		etaZoom: [alphaEtaLim, alphaEtaTicks, alphaEtaLabels], szZoom: [alphaSzLim, alphaSzTicks, alphaSzLabels]},
	{eta: thetaEta, sz: thetaSz, wide: [thetaWideLim, thetaWideTicks, thetaWideLabels],
		etaZoom: [thetaEtaLim, thetaEtaTicks, thetaEtaLabels], szZoom: [thetaSzLim, thetaSzTicks, thetaSzLabels]},
	{eta: gammaEta, sz: gammaSz, wide: [gammaWideLim, gammaWideTicks, gammaWideLabels],
		etaZoom: [gammaEtaLim, gammaEtaTicks, gammaEtaLabels], szZoom: [gammaSzLim, gammaSzTicks, gammaSzLabels]}
];

const svg = d3.select("#chart").append("svg")
	.attr("width", W)
	.attr("height", H)
	.style("font-family", sans);

// R style 4% padding of the axis limits
function pad(lim) {
	let r = lim[1] - lim[0];
	return [lim[0] - 0.04 * r, lim[1] + 0.04 * r];
}

function drawPanel(left, top, xs, ys, xConf, yConf) {
	let g = svg.append("g");
	let x = d3.scaleLinear().domain(pad(xConf[0])).range([left, left + boxW]);
	let y = d3.scaleLinear().domain(pad(yConf[0])).range([top + boxH, top]);

	g.append("g").selectAll("circle")
		.data(d3.range(xs.length))
		.join("circle")
		.attr("cx", i => x(xs[i]))
		.attr("cy", i => y(ys[i]))
		.attr("r", 3.1)
		.attr("fill", "none")
		.attr("stroke", "#000")
		.attr("stroke-width", 1.25);

	g.append("rect")
		.attr("x", left).attr("y", top)
		.attr("width", boxW).attr("height", boxH)
		.attr("fill", "none")
		.attr("stroke", "#000");

	let xt = xConf[1], xl = xConf[2];
	let xa = g.append("g")
		.attr("transform", `translate(0,${top + boxH + 2})`)
		.call(d3.axisBottom(x).tickValues(xt).tickFormat((d, i) => xl[i]).tickSize(6).tickSizeOuter(0));
	xa.attr("font-size", null).attr("font-family", null);
	xa.select(".domain").remove();
	xa.append("line")
		.attr("x1", x(xt[0])).attr("x2", x(xt[xt.length - 1]))
		.attr("stroke", "#000");
	xa.selectAll(".tick text")
		.attr("y", 26).attr("dy", null)
		.style("font-size", "16px")
		.attr("fill", "#000");

	let yt = yConf[1], yl = yConf[2];
	let ya = g.append("g")
		.attr("transform", `translate(${left - 2},0)`)
		.call(d3.axisLeft(y).tickValues(yt).tickFormat((d, i) => yl[i]).tickSize(6).tickSizeOuter(0));
	ya.attr("font-size", null).attr("font-family", null);
	ya.select(".domain").remove();
	ya.append("line")
		.attr("y1", y(yt[0])).attr("y2", y(yt[yt.length - 1]))
		.attr("stroke", "#000");
	ya.selectAll(".tick text")
		.attr("x", null).attr("dy", null)
		.attr("text-anchor", "middle")
		.attr("transform", "translate(-15,0) rotate(-90)")
		.style("font-size", "16px")
		.attr("fill", "#000");
}

rows.forEach((row, r) => {
	for (let c = 0; c < 4; c++) {
		let left = colLeft[c], top = rowTop[r];
		let isEta = c < 2;
		let xConf = isEta ? [etaLim, etaTicks, etaTickLabels] : [szLim, szTicks, szTickLabels];
		let yConf = c % 2 === 0 ? row.wide : (isEta ? row.etaZoom : row.szZoom);
		drawPanel(left, top, isEta ? xEta : xSz, isEta ? row.eta : row.sz, xConf, yConf);

		// y label
		let yl = svg.append("text")
			.attr("text-anchor", "middle")
			.attr("transform", `translate(${left - 47},${top + boxH / 2}) rotate(-90)`)
			.style("font-size", "18px")
			.style("font-weight", "bold");
		yl.append("tspan").text(rowNames[r]);
		yl.append("tspan").style("font-weight", "normal").text(rowGreek[r]);

		if (r === 0) {
			svg.append("text")
				.attr("x", left + boxW / 2)
				.attr("y", 23)
				.attr("text-anchor", "middle")
				.style("font-size", "22px")
				.style("font-weight", "bold")
				.text(colTitles[c]);
		}
		if (r === 2) {
			let cx = left + boxW / 2;
			svg.append("text")
				.attr("x", cx).attr("y", top + boxH + 55.5)
				.attr("text-anchor", "middle")
				.style("font-size", "22px").style("font-weight", "bold")
				.text("Trial–to–Trial Variability");
			let l2 = svg.append("text")
				.attr("x", cx).attr("y", top + boxH + 79)
				.attr("text-anchor", "middle")
				.style("font-size", "22px").style("font-weight", "bold");
			if (isEta) {
				l2.append("tspan").text("in Drift Rate ");
				l2.append("tspan").style("font-weight", "normal").text("η");
			} else {
				l2.text("in Starting Point sz");
			}
		}
	}
});

// sub-figure captions
const serif = "'Liberation Serif', 'Times New Roman', serif";
let capA = svg.append("text")
	.attr("x", 316).attr("y", 673)
	.attr("text-anchor", "middle")
	.style("font-family", serif).style("font-size", "23px").style("letter-spacing", "1px");
capA.append("tspan").text("(a) trial–to–trial Variability in Drift Rate ");
capA.append("tspan").style("font-style", "italic").text("η");

let capB = svg.append("text")
	.attr("x", 951).attr("y", 673)
	.attr("text-anchor", "middle")
	.style("font-family", serif).style("font-size", "23px").style("letter-spacing", "1px");
capB.append("tspan").text("(b) trial–to–trial Variability in Starting Point ");
capB.append("tspan").style("font-style", "italic").text("s");
capB.append("tspan").style("font-style", "italic").style("font-size", "16px").attr("dy", 4).text("z");
</script>
</body>
</html>
